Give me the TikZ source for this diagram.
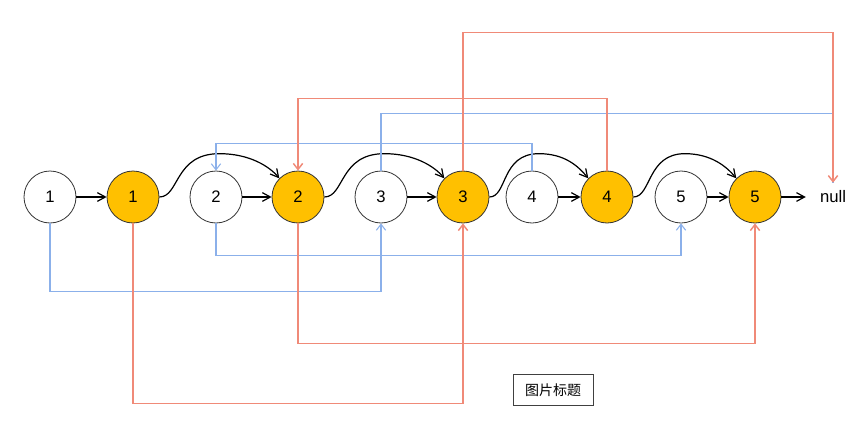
\documentclass[tikz,border=0pt]{standalone}
\usepackage{fontspec}
\setmainfont{Liberation Sans}
\newfontfamily\cjk{Noto Sans CJK SC}
\usetikzlibrary{arrows.meta,calc}
\definecolor{gold}{HTML}{FFC000}
\definecolor{lnred}{HTML}{F08A78}
\definecolor{lnblue}{HTML}{8BB0EA}
\begin{document}
\begin{tikzpicture}[x=0.75pt,y=-0.75pt,
  nd/.style={circle,draw=black!80,line width=0.6pt,minimum size=39pt,inner sep=0pt,font=\fontsize{12.5}{14}\selectfont},
  yl/.style={nd,fill=gold},
  blk/.style={draw=black,line width=0.9pt,-{Straight Barb[length=6pt,width=6.5pt]}},
  redln/.style={draw=lnred,line width=1.1pt},
  blueln/.style={draw=lnblue,line width=0.8pt},
  rarr/.style={-{Straight Barb[length=4.5pt,width=7pt]}},
  curv/.style={blk}]
\useasboundingbox (0,0) rectangle (863,428);

\node[nd] (n1) at (50,197) {1};
\node[yl] (y1) at (133,197) {1};
\node[nd] (n2) at (216,197) {2};
\node[yl] (y2) at (298,197) {2};
\node[nd] (n3) at (381,197) {3};
\node[yl] (y3) at (463,197) {3};
\node[nd] (n4) at (532,197) {4};
\node[yl] (y4) at (607,197) {4};
\node[nd] (n5) at (681,197) {5};
\node[yl] (y5) at (755,197) {5};
\node[inner xsep=10.5pt,inner ysep=0pt,minimum height=21pt,font=\fontsize{12.5}{14}\selectfont] (nul) at (833,197) {null};
\node[draw=black!75,line width=0.6pt,minimum width=60pt,minimum height=23pt,inner sep=0pt,font=\cjk\fontsize{10.5}{12}\selectfont] (cap) at (553,390) {图片标题};

% straight black arrows
\draw[blk] (n1) -- (y1);
\draw[blk] (n2) -- (y2);
\draw[blk] (n3) -- (y3);
\draw[blk] (n4) -- (y4);
\draw[blk] (n5) -- (y5);
\draw[blk] (y5) -- (nul);

% curved black arrows
\draw[curv] (y1.east) .. controls +(20,0) and +(-45,0) .. ($(y1.east)!0.5!(y2.north west)+(0,-34)$) .. controls +(30,0) and +(-10,-12) .. (y2.north west);
\draw[curv] (y2.east) .. controls +(20,0) and +(-45,0) .. ($(y2.east)!0.5!(y3.north west)+(0,-34)$) .. controls +(30,0) and +(-10,-12) .. (y3.north west);
\draw[curv] (y3.east) .. controls +(18,0) and +(-38,0) .. ($(y3.east)!0.5!(y4.north west)+(0,-34)$) .. controls +(26,0) and +(-10,-12) .. (y4.north west);
\draw[curv] (y4.east) .. controls +(18,0) and +(-38,0) .. ($(y4.east)!0.5!(y5.north west)+(0,-34)$) .. controls +(26,0) and +(-10,-12) .. (y5.north west);

% blue connectors
\draw[blueln,rarr] (n1.south) -- ++(0,68) -| (n3.south);
\draw[blueln,rarr] (n2.south) -- ++(0,32) -| (n5.south);
\draw[blueln,rarr] (n4.north) -- ++(0,-27) -| (n2.north);
\draw[blueln] (n3.north) -- ++(0,-57) -| (nul.north);

% red connectors
\draw[redln,rarr] (y1.south) -- ++(0,180) -| (y3.south);
\draw[redln,rarr] (y2.south) -- ++(0,120) -| (y5.south);
\draw[redln,rarr] (y4.north) -- ++(0,-72) -| (y2.north);
\draw[redln,rarr] (y3.north) -- ++(0,-138) -| (nul.north);
\end{tikzpicture}
\end{document}
